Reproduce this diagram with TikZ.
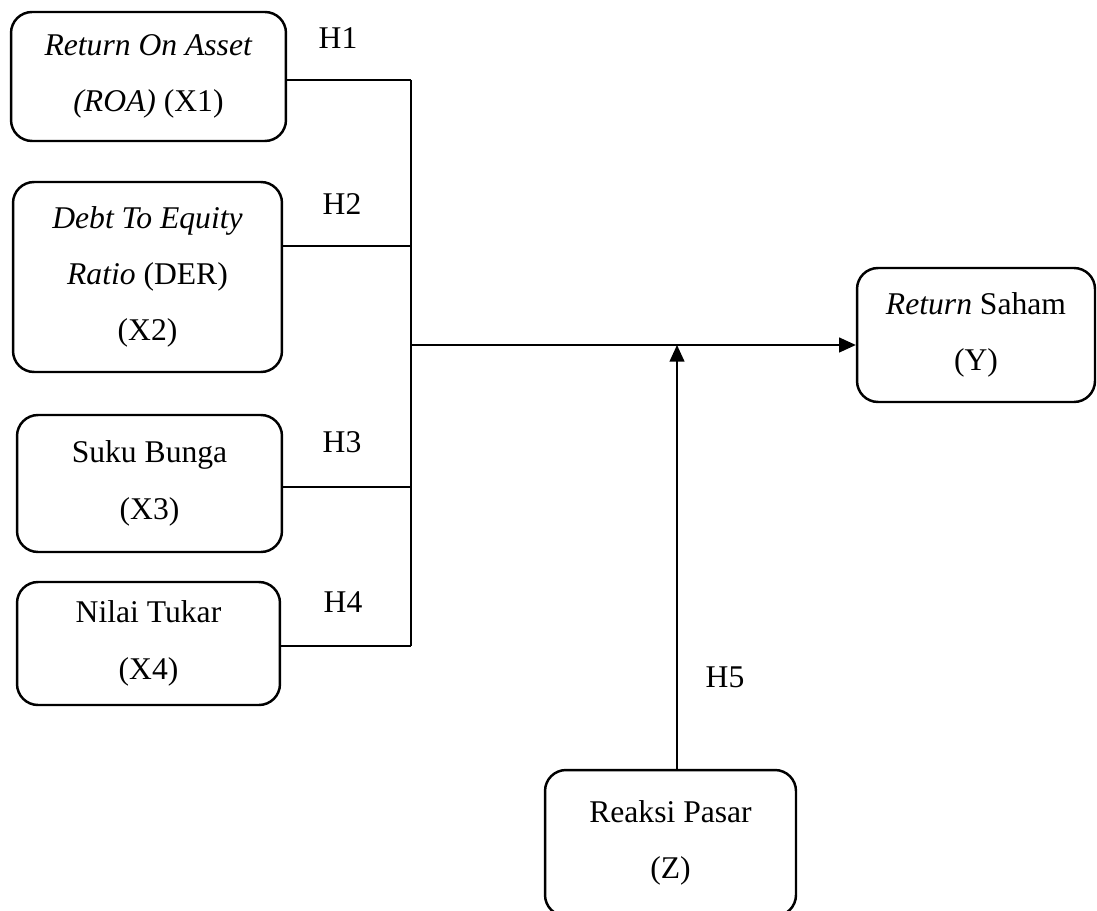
\documentclass[tikz,border=0pt]{standalone}
\usepackage{fontspec}
\setmainfont{Liberation Serif}
\usepackage{tikz}
\usetikzlibrary{arrows.meta}

\begin{document}
\begin{tikzpicture}[x=0.02cm, y=-0.02cm,
    box/.style={draw, line width=1.4pt, rounded corners=0.42cm, align=center,
        inner sep=0pt, font=\fontsize{18}{32}\selectfont},
    link/.style={line width=0.8pt},
    tip/.style={-{Triangle[length=9.5pt, width=8.5pt]}},
    hyp/.style={font=\fontsize{18}{22}\selectfont}]
    \useasboundingbox (0,0) rectangle (1097,911);
    % Independent variables
    \node[box, minimum width=5.5cm, minimum height=2.58cm] (X1) at (148.5,76.5)
        {\textit{Return On Asset}\\\textit{(ROA)} (X1)};
    \node[box, minimum width=5.38cm, minimum height=3.8cm] (X2) at (147.5,277)
        {\textit{Debt To Equity}\\\textit{Ratio} (DER)\\(X2)};
    \node[box, minimum width=5.3cm, minimum height=2.74cm] (X3) at (149.5,483.5)
        {Suku Bunga\\(X3)};
    \node[box, minimum width=5.26cm, minimum height=2.46cm] (X4) at (148.5,643.5)
        {Nilai Tukar\\(X4)};
    % Dependent and moderating variables
    \node[box, minimum width=4.76cm, minimum height=2.68cm] (Y) at (976,335)
        {\textit{Return} Saham\\(Y)};
    \node[box, minimum width=5.02cm, minimum height=2.92cm] (Z) at (670.5,843)
        {Reaksi Pasar\\(Z)};

    % Bus points
    \coordinate (b1) at (411,80);
    \coordinate (b2) at (411,246);
    \coordinate (b3) at (411,487);
    \coordinate (b4) at (411,646);
    \coordinate (jn) at (411,345);
    \coordinate (mod) at (677,345);

    % Connectors
    \draw[link] (X1.east |- b1) -- (b1);
    \draw[link] (X2.east |- b2) -- (b2);
    \draw[link] (X3.east |- b3) -- (b3);
    \draw[link] (X4.east |- b4) -- (b4);
    \draw[link] (b1) -- (b4);
    \draw[link, tip] (jn) -- (jn -| Y.west);
    \draw[link, tip] (Z.north -| mod) -- (mod);

    % Hypothesis labels
    \node[hyp] (h1) at (338,38) {H1};
    \node[hyp] (h2) at (342,204) {H2};
    \node[hyp] (h3) at (342,442) {H3};
    \node[hyp] (h4) at (343,602) {H4};
    \node[hyp] (h5) at (725,677) {H5};
\end{tikzpicture}
\end{document}
